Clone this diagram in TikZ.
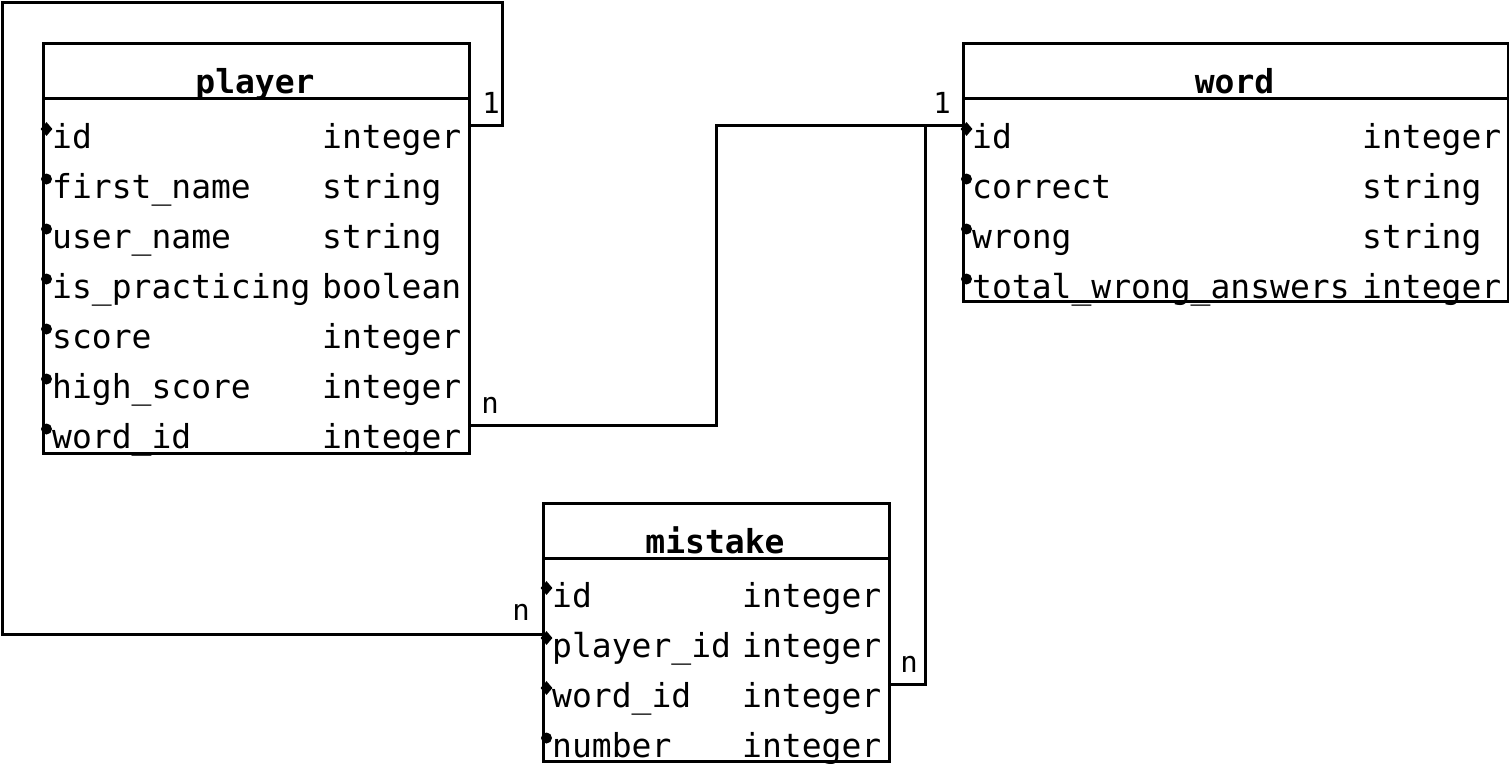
\documentclass[tikz,border=0pt]{standalone}
\usepackage{fontspec}
\setmonofont{DejaVu Sans Mono}
\usetikzlibrary{shapes.geometric}
\tikzset{
  ertable/.style={draw, line width=3pt, anchor=north west, inner sep=0pt},
  erline/.style ={line width=3pt},
  ertitle/.style={anchor=base, inner sep=0pt, font=\ttfamily\bfseries\fontsize{33}{33}\selectfont},
  erfield/.style={anchor=base west, inner sep=0pt, font=\ttfamily\fontsize{33}{33}\selectfont},
  errow/.style  ={anchor=west, inner sep=0pt, minimum height=50pt},
  erdot/.style  ={circle, fill, inner sep=0pt, minimum size=11pt},
  erkey/.style  ={diamond, fill, inner sep=0pt, minimum width=12pt, minimum height=14pt},
  rel/.style    ={line width=3pt},
  card/.style   ={anchor=base, inner sep=0pt, font=\ttfamily\fontsize{29}{29}\selectfont},
}
\begin{document}
\begin{tikzpicture}[x=1pt, y=-1pt]
  \useasboundingbox (0,0) rectangle (1509,763);
  % player
  \node[ertable, minimum width=426pt, minimum height=410pt] (player) at (42,42) {};
  \draw[erline] (player.north west) ++(0,56) -- ++(426,0);
  \node[ertitle] (player-title) at (255,93) {player};
  \foreach \r/\f/\t/\d [count=\i from 0] in {id/id/integer/erkey, fn/first\_name/string/erdot,
      un/user\_name/string/erdot, ip/is\_practicing/boolean/erdot, sc/score/integer/erdot,
      hs/high\_score/integer/erdot, wid/word\_id/integer/erdot} {
    \node[errow, minimum width=426pt] (player-\r) at (42,125+50*\i) {};
    \node[\d] (player-\r-dot) at (46.5,129+50*\i) {};
    \node[erfield] (player-\r-f) at (52,148+50*\i) {\f};
    \node[erfield] (player-\r-t) at (322,148+50*\i) {\t};
  }
  % word
  \node[ertable, minimum width=545pt, minimum height=258pt] (word) at (962,42) {};
  \draw[erline] (word.north west) ++(0,56) -- ++(545,0);
  \node[ertitle] (word-title) at (1234.5,93) {word};
  \foreach \r/\f/\t/\d [count=\i from 0] in {id/id/integer/erkey, co/correct/string/erdot,
      wr/wrong/string/erdot, twa/total\_wrong\_answers/integer/erdot} {
    \node[errow, minimum width=545pt] (word-\r) at (962,125+50*\i) {};
    \node[\d] (word-\r-dot) at (966.5,129+50*\i) {};
    \node[erfield] (word-\r-f) at (972,148+50*\i) {\f};
    \node[erfield] (word-\r-t) at (1362,148+50*\i) {\t};
  }
  % mistake
  \node[ertable, minimum width=346pt, minimum height=258pt] (mistake) at (542,502) {};
  \draw[erline] (mistake.north west) ++(0,56) -- ++(346,0);
  \node[ertitle] (mistake-title) at (715,553) {mistake};
  \foreach \r/\f/\t/\d [count=\i from 0] in {id/id/integer/erkey, pid/player\_id/integer/erkey,
      wid/word\_id/integer/erkey, nr/number/integer/erdot} {
    \node[errow, minimum width=346pt] (mistake-\r) at (542,584+50*\i) {};
    \node[\d] (mistake-\r-dot) at (546.5,588+50*\i) {};
    \node[erfield] (mistake-\r-f) at (552,607+50*\i) {\f};
    \node[erfield] (mistake-\r-t) at (742,607+50*\i) {\t};
  }
  % relations
  \coordinate (loop-ne) at (502,2);
  \coordinate (loop-sw) at (2,634);
  \draw[rel] (player-id.east) -| (loop-ne) -| (loop-sw) -- (mistake-pid.west);
  \draw[rel] (player-wid.east) -- ++(248,0) |- (word-id.west);
  \draw[rel] (mistake-wid.east) -- ++(37,0) |- (word-id.west);
  \node[card] (card-player) at (491,113) {1};
  \node[card] (card-mistake-p) at (521,620) {n};
  \node[card] (card-player-w) at (490,413) {n};
  \node[card] (card-word) at (942,113) {1};
  \node[card] (card-mistake-w) at (909,672) {n};
\end{tikzpicture}
\end{document}
